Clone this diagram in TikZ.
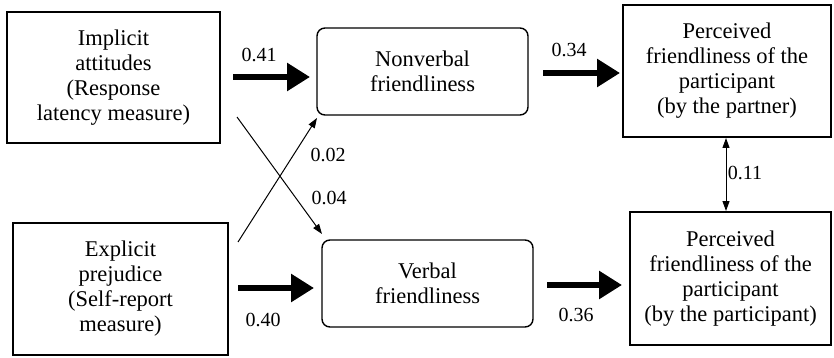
\documentclass[tikz,border=0pt]{standalone}
\usepackage{fontspec}
\setmainfont{Liberation Serif}
\usetikzlibrary{arrows.meta}
\begin{document}
\begin{tikzpicture}[x=1pt,y=-1pt,
  box/.style={draw,line width=1.4pt,inner sep=0pt,align=center,font=\fontsize{22.5}{25}\selectfont},
  rbox/.style={box,rounded corners=8pt},
  lbl/.style={font=\fontsize{20}{24}\selectfont,inner sep=0pt},
  thick arrow/.style={line width=6.5pt,-{Triangle[length=23pt,width=27pt]}},
  thin arrow/.style={line width=1pt,-{Triangle[length=10pt,width=7pt]}}]
\useasboundingbox (0,0) rectangle (834,358);
\node[box,minimum width=213pt,minimum height=131pt] (imp) at (113.5,77.5)
  {Implicit\\attitudes\\(Response\\latency measure)};
\node[box,minimum width=215pt,minimum height=132pt] (exp) at (120.5,289)
  {Explicit\\prejudice\\(Self-report\\measure)};
\node[rbox,minimum width=211pt,minimum height=87pt] (nv) at (422.5,71.5)
  {Nonverbal\\friendliness};
\node[rbox,minimum width=211pt,minimum height=87pt] (vb) at (427.5,283.5)
  {Verbal\\friendliness};
\node[box,minimum width=208pt,minimum height=132pt] (p1) at (727,71)
  {Perceived\\friendliness of the\\participant\\(by the partner)};
\node[box,minimum width=201pt,minimum height=133pt] (p2) at (730.5,278.5)
  {Perceived\\friendliness of the\\participant\\(by the participant)};
% thick arrows
\coordinate (a1s) at (233,77); \coordinate (a1e) at (310,77);
\coordinate (a2s) at (543,73); \coordinate (a2e) at (620,73);
\coordinate (a3s) at (238,288); \coordinate (a3e) at (314,288);
\coordinate (a4s) at (547,285); \coordinate (a4e) at (622,285);
\draw[thick arrow] (a1s) -- (a1e);
\draw[thick arrow] (a2s) -- (a2e);
\draw[thick arrow] (a3s) -- (a3e);
\draw[thick arrow] (a4s) -- (a4e);
\node[lbl] (l41) at (259,55) {0.41};
\node[lbl] (l34) at (569,50) {0.34};
\node[lbl] (l40) at (263,320) {0.40};
\node[lbl] (l36) at (576,315) {0.36};
% crossing arrows
\coordinate (c1s) at (237,117); \coordinate (c1e) at (322,234);
\coordinate (c2s) at (238,242); \coordinate (c2e) at (317,118);
\draw[thin arrow] (c1s) -- (c1e);
\draw[thin arrow] (c2s) -- (c2e);
\node[lbl] (l02) at (328,155) {0.02};
\node[lbl] (l04) at (329,198) {0.04};
% double arrow
\coordinate (d1) at (726,138); \coordinate (d2) at (726,211);
\draw[line width=1pt,{Triangle[length=10pt,width=7pt]}-{Triangle[length=10pt,width=7pt]}] (d1) -- (d2);
\node[lbl] (l11) at (745,173) {0.11};
\end{tikzpicture}
\end{document}
